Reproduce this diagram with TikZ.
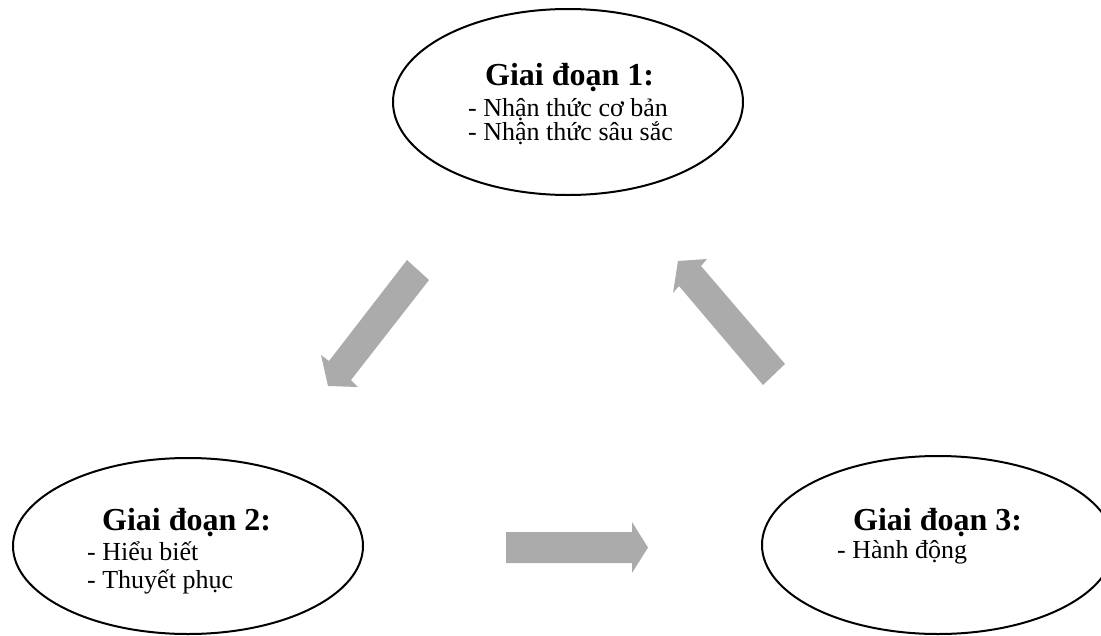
\documentclass[tikz,border=0pt]{standalone}
\usepackage{fontspec}
\setmainfont{Liberation Serif}
\usetikzlibrary{shapes.geometric}
\definecolor{arrowgray}{HTML}{ABABAB}
\tikzset{
  stage/.style={ellipse, draw=black, line width=2pt, inner sep=0pt},
  title/.style={anchor=base west, inner sep=0pt, font=\fontsize{32}{36}\selectfont\bfseries},
  item/.style={anchor=base west, inner sep=0pt, font=\fontsize{26}{30}\selectfont},
  blockarrow/.style={fill=arrowgray, draw=none}
}
\begin{document}
\begin{tikzpicture}[x=1pt, y=-1pt]
\useasboundingbox (0,0) rectangle (1101,635);
\clip (0,0) rectangle (1101,635);
% ellipses
\node[stage, minimum width=350pt, minimum height=186pt] (s1) at (568,102) {};
\node[stage, minimum width=350pt, minimum height=176pt] (s2) at (188,546) {};
\node[stage, minimum width=352pt, minimum height=178pt] (s3) at (938,545) {};
% texts
\node[title] (t1) at (485,85) {Giai đoạn 1:};
\node[item] (t1a) at (468,116) {- Nhận thức cơ bản};
\node[item] (t1b) at (468,140) {- Nhận thức sâu sắc};
\node[title] (t2) at (102,530) {Giai đoạn 2:};
\node[item] (t2a) at (87,560) {- Hiểu biết};
\node[item] (t2b) at (87,588) {- Thuyết phục};
\node[title] (t3) at (853,530) {Giai đoạn 3:};
\node[item] (t3a) at (837,558) {- Hành động};
% block arrows
\fill[blockarrow] (407,260) -- (429,280) -- (351,380) -- (358,387) -- (328,386) -- (321,355) -- (329,361) -- cycle;
\fill[blockarrow] (707,259) -- (701,266) -- (785,364) -- (763,385) -- (679,286) -- (673,293) -- (678,261) -- cycle;
\fill[blockarrow] (506,532) -- (632,532) -- (632,522) -- (648,547.5) -- (632,573) -- (632,563) -- (506,563) -- cycle;
\end{tikzpicture}
\end{document}
